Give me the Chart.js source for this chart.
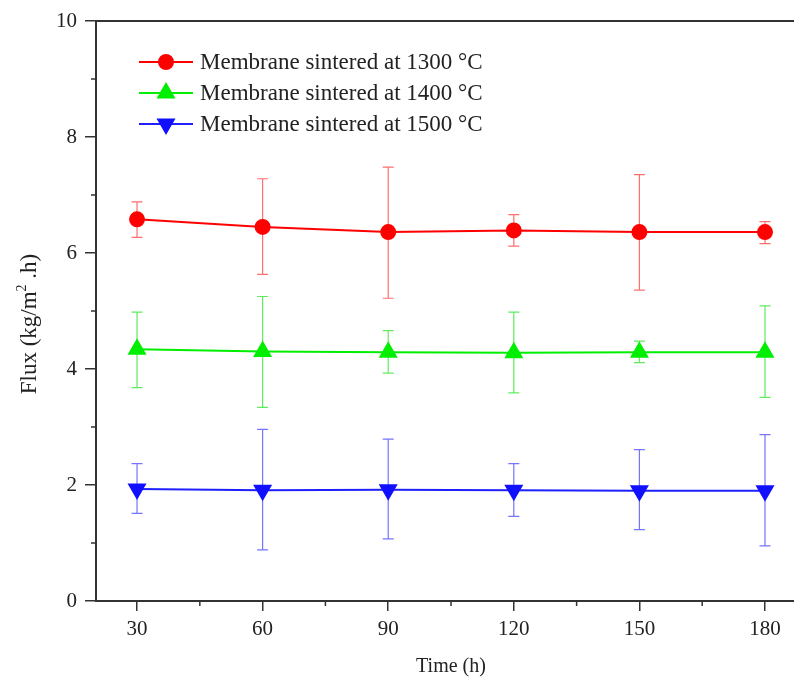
<!DOCTYPE html>
<html><head><meta charset="utf-8">
<script src="https://cdn.jsdelivr.net/npm/chart.js@4/dist/chart.umd.min.js"></script>
<style>html,body{margin:0;padding:0;background:#fff}#wrap{width:794px;height:682px}</style>
</head><body><div id="wrap"><canvas id="c" width="794" height="682"></canvas></div>
<script>
const times = [30, 60, 90, 120, 150, 180];
const xTickValues = [30, 60, 90, 120, 150, 180];
const yTickValues = [0, 2, 4, 6, 8, 10];
const xTitle = 'Time (h)';
const yTitleParts = ['Flux (kg/m', '2', ' .h)'];
const seriesNames = ['Membrane sintered at 1300 °C', 'Membrane sintered at 1400 °C', 'Membrane sintered at 1500 °C'];
const flux1300 = [6.58, 6.45, 6.36, 6.39, 6.36, 6.36];
const hi1300   = [6.88, 7.28, 7.48, 6.66, 7.35, 6.54];
const lo1300   = [6.27, 5.63, 5.22, 6.12, 5.36, 6.16];
const flux1400 = [4.34, 4.30, 4.29, 4.28, 4.29, 4.29];
const hi1400   = [4.98, 5.25, 4.66, 4.98, 4.48, 5.09];
const lo1400   = [3.68, 3.34, 3.93, 3.59, 4.11, 3.51];
const flux1500 = [1.93, 1.91, 1.92, 1.91, 1.90, 1.90];
const hi1500   = [2.37, 2.96, 2.79, 2.37, 2.61, 2.87];
const lo1500   = [1.51, 0.88, 1.07, 1.46, 1.23, 0.95];

const FONT = "'Liberation Serif', 'Times New Roman', serif";
const pts = arr => times.map((t, i) => ({x: t, y: arr[i]}));

const errorBars = {
  id: 'errorBars',
  beforeDatasetsDraw(chart) {
    const ctx = chart.ctx, xs = chart.scales.x, ys = chart.scales.y;
    chart.data.datasets.forEach(ds => {
      ctx.save();
      ctx.strokeStyle = ds.errColor;
      ctx.lineWidth = 1.2;
      times.forEach((t, i) => {
        const px = xs.getPixelForValue(t);
        const yh = ys.getPixelForValue(ds.errHi[i]);
        const yl = ys.getPixelForValue(ds.errLo[i]);
        ctx.beginPath();
        ctx.moveTo(px, yh); ctx.lineTo(px, yl);
        ctx.moveTo(px - 5.5, yh); ctx.lineTo(px + 5.5, yh);
        ctx.moveTo(px - 5.5, yl); ctx.lineTo(px + 5.5, yl);
        ctx.stroke();
      });
      ctx.restore();
    });
  }
};

const frameAndTitles = {
  id: 'frameAndTitles',
  afterDraw(chart) {
    const ctx = chart.ctx, xs = chart.scales.x, ys = chart.scales.y, a = chart.chartArea;
    ctx.save();
    ctx.strokeStyle = '#333'; ctx.lineWidth = 1.5;
    for (let i = 0; i < xTickValues.length - 1; i++) {
      const p = xs.getPixelForValue((xTickValues[i] + xTickValues[i + 1]) / 2);
      ctx.beginPath(); ctx.moveTo(p, a.bottom); ctx.lineTo(p, a.bottom + 5); ctx.stroke();
    }
    for (let i = 0; i < yTickValues.length - 1; i++) {
      const p = ys.getPixelForValue((yTickValues[i] + yTickValues[i + 1]) / 2);
      ctx.beginPath(); ctx.moveTo(a.left, p); ctx.lineTo(a.left - 5, p); ctx.stroke();
    }
    // top frame line and bottom axis running to the edge of the figure
    ctx.lineWidth = 2;
    ctx.beginPath(); ctx.moveTo(a.left, a.top); ctx.lineTo(chart.width, a.top); ctx.stroke();
    ctx.beginPath(); ctx.moveTo(a.right - 1, a.bottom); ctx.lineTo(chart.width, a.bottom); ctx.stroke();
    ctx.restore();

    // x title
    ctx.save();
    ctx.fillStyle = '#222';
    ctx.font = '20px ' + FONT;
    ctx.textAlign = 'center'; ctx.textBaseline = 'middle';
    ctx.fillText(xTitle, 451, 667);
    ctx.restore();

    // y title with superscript
    ctx.save();
    ctx.translate(29, 324);
    ctx.rotate(-Math.PI / 2);
    ctx.fillStyle = '#222';
    ctx.textBaseline = 'alphabetic';
    const big = '23px ' + FONT, small = '14px ' + FONT;
    ctx.font = big; const w0 = ctx.measureText(yTitleParts[0]).width;
    const w2 = ctx.measureText(yTitleParts[2]).width;
    ctx.font = small; const w1 = ctx.measureText(yTitleParts[1]).width;
    let x = -(w0 + w1 + w2) / 2;
    const base = 7;
    ctx.font = big; ctx.fillText(yTitleParts[0], x, base); x += w0;
    ctx.font = small; ctx.fillText(yTitleParts[1], x, base - 10); x += w1;
    ctx.font = big; ctx.fillText(yTitleParts[2], x, base);
    ctx.restore();
  }
};

const customLegend = {
  id: 'customLegend',
  afterDraw(chart) {
    const ctx = chart.ctx;
    const x0 = 139, x1 = 193, tx = 200;
    const rows = [62, 93, 124];
    chart.data.datasets.forEach((ds, i) => {
      const y = rows[i];
      ctx.save();
      ctx.strokeStyle = ds.borderColor; ctx.lineWidth = 2;
      ctx.beginPath(); ctx.moveTo(x0, y); ctx.lineTo(x1, y); ctx.stroke();
      ctx.fillStyle = ds.pointBackgroundColor; ctx.strokeStyle = ds.pointBackgroundColor;
      Chart.helpers.drawPoint(ctx, {
        pointStyle: ds.pointStyle, radius: ds.pointRadius, rotation: ds.pointRotation || 0, borderWidth: 1
      }, (x0 + x1) / 2, y);
      ctx.fillStyle = '#222';
      ctx.font = '23px ' + FONT;
      ctx.textBaseline = 'middle';
      ctx.fillText(ds.label, tx, y + 1);
      ctx.restore();
    });
  }
};

new Chart(document.getElementById('c'), {
  type: 'line',
  data: {
    datasets: [
      {label: seriesNames[0], data: pts(flux1300), errHi: hi1300, errLo: lo1300,
       borderColor: '#ff0000', backgroundColor: '#ff0000', pointBackgroundColor: '#ff0000', pointBorderColor: '#ff0000',
       errColor: 'rgba(255,60,60,0.75)', pointStyle: 'circle', pointRadius: 7, borderWidth: 2},
      {label: seriesNames[1], data: pts(flux1400), errHi: hi1400, errLo: lo1400,
       borderColor: '#00ee00', backgroundColor: '#00ee00', pointBackgroundColor: '#00ee00', pointBorderColor: '#00ee00',
       errColor: 'rgba(40,230,40,0.75)', pointStyle: 'triangle', pointRadius: 9, borderWidth: 2},
      {label: seriesNames[2], data: pts(flux1500), errHi: hi1500, errLo: lo1500,
       borderColor: '#2020ff', backgroundColor: '#2020ff', pointBackgroundColor: '#1010ff', pointBorderColor: '#1010ff',
       errColor: 'rgba(70,70,255,0.75)', pointStyle: 'triangle', pointRotation: 180, pointRadius: 9, borderWidth: 2}
    ]
  },
  options: {
    responsive: false, animation: false,
    layout: {padding: {top: 21, right: 1, left: 0, bottom: 0}},
    plugins: {legend: {display: false}, tooltip: {enabled: false}},
    elements: {line: {tension: 0}},
    scales: {
      x: {
        type: 'linear', min: 20.2, max: 184.3,
        afterBuildTicks: s => { s.ticks = xTickValues.map(v => ({value: v})); },
        afterFit: s => { s.height = 81; },
        grid: {drawOnChartArea: false, drawTicks: true, tickLength: 10, color: '#333', lineWidth: 1.5},
        border: {display: true, color: '#333', width: 2},
        ticks: {color: '#222', font: {family: FONT, size: 21}, padding: 6},
        title: {display: false}
      },
      y: {
        type: 'linear', min: 0, max: 10,
        afterBuildTicks: s => { s.ticks = yTickValues.map(v => ({value: v})); },
        afterFit: s => { s.width = 96; },
        grid: {drawOnChartArea: false, drawTicks: true, tickLength: 11, color: '#333', lineWidth: 1.5},
        border: {display: true, color: '#333', width: 2},
        ticks: {color: '#222', font: {family: FONT, size: 21}, padding: 8},
        title: {display: false}
      }
    }
  },
  plugins: [errorBars, frameAndTitles, customLegend]
});
</script></body></html>
